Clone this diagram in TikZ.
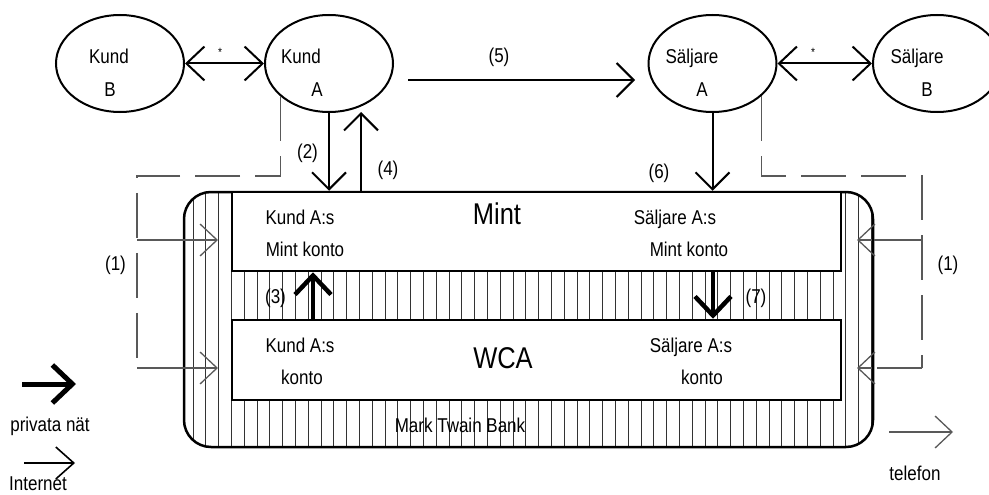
\documentclass[tikz,border=0pt]{standalone}
\usepackage{fontspec}
\setmainfont{Liberation Sans}[FakeStretch=0.85]
\usetikzlibrary{arrows.meta,shapes.geometric}
\begin{document}
\begin{tikzpicture}[x=1pt,y=-1pt, font=\fontsize{20}{24}\selectfont,
 ell/.style={draw, ellipse, line width=2pt, minimum width=128pt, minimum height=97pt, inner sep=0pt},
 txt/.style={inner sep=0pt, anchor=base},
 lbl/.style={inner sep=0pt},
 big/.style={inner sep=0pt, anchor=base, font=\fontsize{30}{34}\selectfont},
 star/.style={inner sep=0pt, font=\fontsize{12}{14}\selectfont},
 box/.style={draw, fill=white, line width=2.5pt, minimum width=609pt, inner sep=0pt},
 flow/.style={line width=2pt, -{Straight Barb[length=17pt,width=34pt]}},
 both/.style={line width=2pt, {Straight Barb[length=18pt,width=34pt]}-{Straight Barb[length=18pt,width=34pt]}},
 inner/.style={line width=4.5pt, -{Straight Barb[length=19pt,width=36pt]}},
 dashline/.style={draw=black!65, line width=1.3pt, dash pattern=on 45pt off 15pt},
 thinarr/.style={draw=black!65, line width=1.3pt, -{Straight Barb[length=17pt,width=32pt]}},
 hatch/.style={draw=black!80, line width=1pt}
]
\useasboundingbox (0,0) rectangle (989,495);

% ellipses
\node[ell] (kb) at (120,63.5) {};
\node[ell] (ka) at (329,63.5) {};
\node[ell] (sa) at (712.5,63.5) {};
\node[ell] (sb) at (937,63.5) {};
\node[txt] (kbt1) at (109,64) {Kund};
\node[txt] (kbt2) at (110,97) {B};
\node[txt] (kat1) at (301,64) {Kund};
\node[txt] (kat2) at (317,97) {A};
\node[txt] (sat1) at (692,64) {Säljare};
\node[txt] (sat2) at (702,97) {A};
\node[txt] (sbt1) at (917,64) {Säljare};
\node[txt] (sbt2) at (927,97) {B};

% bank with hatching
\begin{scope}
\clip[rounded corners=27pt] (184,192) rectangle (873,447);
\foreach \i in {-4,...,49} \draw[hatch] (244.3+12.8*\i,190) -- ++(0,260);
\end{scope}
\node[draw, line width=2.5pt, rounded corners=27pt, minimum width=689pt, minimum height=255pt, inner sep=0pt] (bank) at (528.5,319.5) {};
\node[box, minimum height=79pt] (mint) at (536.5,231.5) {};
\node[box, minimum height=80pt] (wca) at (536.5,360) {};

\node[txt] (m1) at (300,224) {Kund A:s};
\node[txt] (m2) at (305,256) {Mint konto};
\node[big] (mt) at (497,224) {Mint};
\node[txt] (m3) at (675,224) {Säljare A:s};
\node[txt] (m4) at (689,256) {Mint konto};
\node[txt] (w1) at (300,352) {Kund A:s};
\node[txt] (w2) at (302,384) {konto};
\node[big] (wt) at (503,368) {WCA};
\node[txt] (w3) at (691,352) {Säljare A:s};
\node[txt] (w4) at (702,384) {konto};
\node[txt] (bt) at (460,432) {Mark Twain Bank};

% connectors between people
\draw[both] (kb.east) -- (ka.west);
\node[star] (s1) at (220,52) {*};
\draw[both] (sa.east) -- (sb.west);
\node[star] (s2) at (813,52) {*};
\coordinate (f5a) at (408,80);
\coordinate (f5b) at (635,80);
\draw[flow] (f5a) -- (f5b);
\node[lbl] (l5) at (499,57) {(5)};

\draw[flow] (ka.south) -- (ka.south |- mint.north);
\node[lbl] (l2) at (307.5,153.5) {(2)};
\coordinate (f4a) at (361,192);
\coordinate (f4b) at (361,112);
\draw[flow] (f4a) -- (f4b);
\node[lbl] (l4) at (388,170) {(4)};
\draw[flow] (sa.south) -- (sa.south |- mint.north);
\node[lbl] (l6) at (659,173) {(6)};

\coordinate (f3) at (313,0);
\draw[inner] (f3 |- wca.north) -- (f3 |- mint.south);
\node[lbl] (l3) at (275.5,298) {(3)};
\coordinate (f7) at (713,0);
\draw[inner] (f7 |- mint.south) -- (f7 |- wca.north);
\node[lbl] (l7) at (756,298) {(7)};

% dashed telephone lines
\draw[dashline] (ka.214) |- (137,176) -- (137,368);
\draw[thinarr] (137,240) -- (218,240);
\draw[thinarr] (137,368) -- (218,368);
\node[lbl] (l1a) at (115.5,265) {(1)};
\draw[dashline] (sa.326) |- (922,176) -- (922,368);
\draw[draw=black!65, line width=1.3pt] (922,240) -- (bank.east |- 0,240);
\draw[dashline] (922,368) -- (873,368);
\draw[thinarr] (872,240) -- (857,240);
\draw[thinarr] (872,368) -- (857,368);
\node[lbl] (l1b) at (948,265) {(1)};

% legend
\coordinate (pa) at (22,384);
\coordinate (pb) at (76,384);
\draw[line width=5pt, -{Straight Barb[length=20pt,width=38pt]}] (pa) -- (pb);
\node[txt] (pn) at (50,431) {privata nät};
\coordinate (ia) at (24,463);
\coordinate (ib) at (75,463);
\draw[line width=1.6pt, -{Straight Barb[length=18pt,width=32pt]}] (ia) -- (ib);
\node[txt] (in) at (38,490) {Internet};
\coordinate (ta) at (889,432);
\coordinate (tb) at (953,432);
\draw[thinarr] (ta) -- (tb);
\node[txt] (tn) at (915,480) {telefon};
\end{tikzpicture}
\end{document}
